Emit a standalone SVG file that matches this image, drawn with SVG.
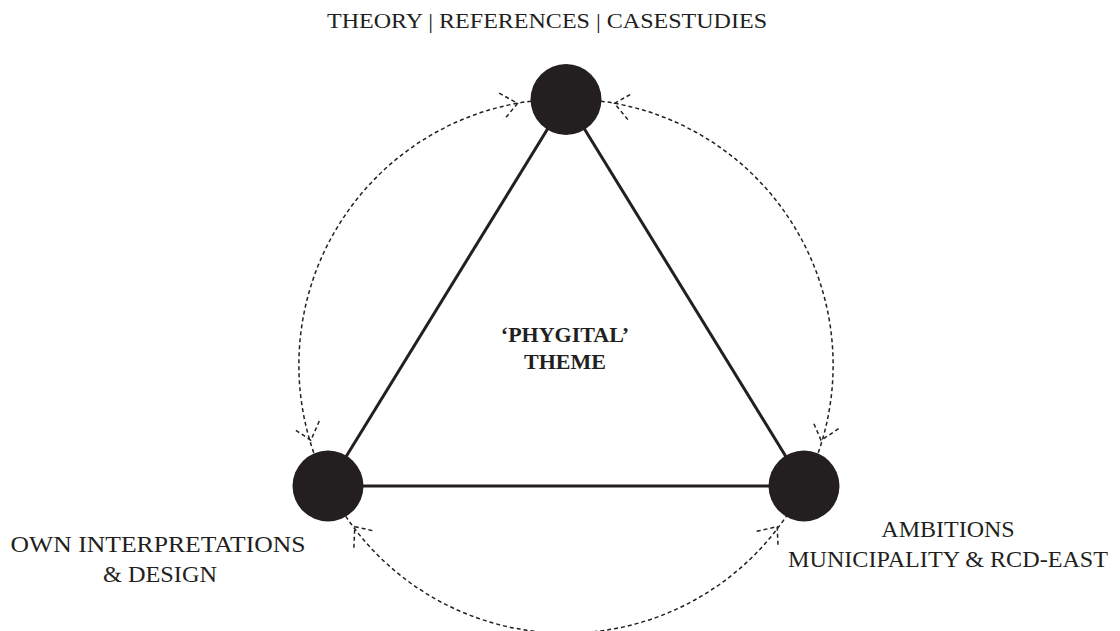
<svg xmlns="http://www.w3.org/2000/svg" xmlns:xlink="http://www.w3.org/1999/xlink" width="1120" height="631" viewBox="0 0 1120 631">
<style>
  .edge { fill: none; stroke: #231f20; stroke-width: 3; }
  .cycle { fill: none; stroke: #231f20; stroke-width: 1.5; stroke-dasharray: 4 3; }
  .node { fill: #231f20; }
  text { font-family: 'Liberation Serif', 'DejaVu Serif', serif; fill: #231f20; text-anchor: middle; }
  .lbl { font-size: 24px; }
  .top { font-size: 22px; }
  .center { font-size: 22px; font-weight: bold; }
</style>
<defs>
  <path id="ah" class="cycle" d="M-16.1,-13.5 L0,0 L-16.1,13.5"/>
</defs>
<rect width="1120" height="631" fill="#ffffff"/>
<g id="connectors">
  <line class="edge" x1="566" y1="99" x2="328" y2="486"/>
  <line class="edge" x1="566" y1="99" x2="804" y2="486"/>
  <line class="edge" x1="328" y1="486" x2="804" y2="486"/>
  <g id="cycle-left">
    <path class="cycle" d="M566,99 A266,266 0 0 0 328,486"/>
    <use xlink:href="#ah" href="#ah" transform="translate(517.5,103.4) rotate(-10.5)"/>
    <use xlink:href="#ah" href="#ah" transform="translate(310.9,440.3) rotate(73.55)"/>
  </g>
  <g id="cycle-right">
    <path class="cycle" d="M566,99 A266,266 0 0 1 804,486"/>
    <use xlink:href="#ah" href="#ah" transform="translate(614.5,103.4) rotate(-169.5)"/>
    <use xlink:href="#ah" href="#ah" transform="translate(821.1,440.3) rotate(106.45)"/>
  </g>
  <g id="cycle-bottom">
    <path class="cycle" d="M328,486 A266,266 0 0 0 804,486"/>
    <use xlink:href="#ah" href="#ah" transform="translate(354.8,526.7) rotate(232.55)"/>
    <use xlink:href="#ah" href="#ah" transform="translate(777.2,526.7) rotate(-52.55)"/>
  </g>
</g>
<g id="node-theory">
  <circle class="node" cx="566" cy="99.5" r="35.5"/>
  <text class="top" font-family="Liberation Serif, serif" x="547" y="28" textLength="440" lengthAdjust="spacingAndGlyphs">THEORY | REFERENCES | CASESTUDIES</text>
</g>
<g id="node-own">
  <circle class="node" cx="328" cy="486" r="35.5"/>
  <text class="lbl" font-family="Liberation Serif, serif" x="158" y="552" textLength="295" lengthAdjust="spacingAndGlyphs">OWN INTERPRETATIONS</text>
  <text class="lbl" font-family="Liberation Serif, serif" x="160" y="582" textLength="114" lengthAdjust="spacingAndGlyphs">&amp; DESIGN</text>
</g>
<g id="node-ambitions">
  <circle class="node" cx="804" cy="486" r="35.5"/>
  <text class="lbl" font-family="Liberation Serif, serif" x="948" y="537">AMBITIONS</text>
  <text class="lbl" font-family="Liberation Serif, serif" x="948" y="567" textLength="320" lengthAdjust="spacingAndGlyphs">MUNICIPALITY &amp; RCD-EAST</text>
</g>
<g id="node-theme">
  <text class="center" font-family="Liberation Serif, serif" x="565" y="342">‘PHYGITAL’</text>
  <text class="center" font-family="Liberation Serif, serif" x="565" y="369">THEME</text>
</g>
</svg>
